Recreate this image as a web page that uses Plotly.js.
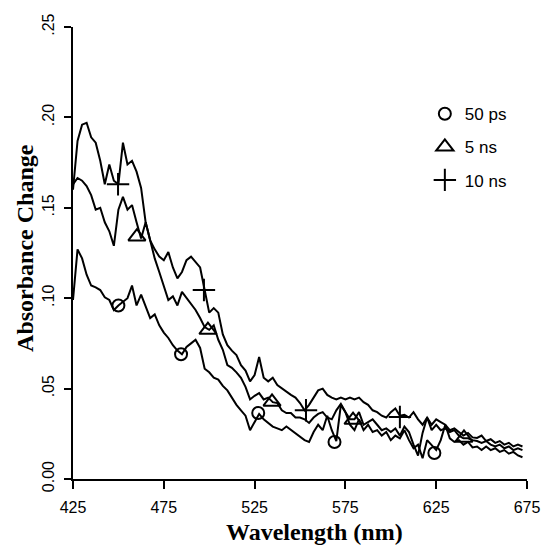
<!DOCTYPE html>
<html>
<head>
<meta charset="utf-8">
<script src="https://cdn.plot.ly/plotly-3.0.1.min.js"></script>
<style>html,body{margin:0;padding:0;background:#fff;}#chart{width:553px;height:546px;}</style>
</head>
<body>
<div id="chart"></div>
<script>
// Wavelength grid (nm)
const wavelength = [425,427.5,430,432.5,435,437.5,440,442.5,445,447.5,450,452.5,455,457.5,460,462.5,465,467.5,470,472.5,475,477.5,480,482.5,485,487.5,490,492.5,495,497.5,500,502.5,505,507.5,510,512.5,515,517.5,520,522.5,525,527.5,530,532.5,535,537.5,540,542.5,545,547.5,550,552.5,555,557.5,560,562.5,565,567.5,570,572.5,575,577.5,580,582.5,585,587.5,590,592.5,595,597.5,600,602.5,605,607.5,610,612.5,615,617.5,620,622.5,625,627.5,630,632.5,635,637.5,640,642.5,645,647.5,650,652.5,655,657.5,660,662.5,665,667.5,670,672.5];

// Absorbance change, 10 ns
const abs10ns = [0.160,0.187,0.196,0.197,0.189,0.186,0.176,0.163,0.174,0.165,0.163,0.186,0.174,0.176,0.170,0.161,0.142,0.132,0.127,0.123,0.121,0.1255,0.117,0.111,0.1145,0.121,0.123,0.120,0.117,0.1045,0.092,0.0945,0.092,0.080,0.074,0.071,0.0686,0.063,0.060,0.054,0.0575,0.0675,0.056,0.054,0.056,0.052,0.050,0.048,0.0465,0.045,0.042,0.038,0.041,0.045,0.049,0.050,0.0465,0.045,0.044,0.045,0.044,0.045,0.044,0.045,0.0425,0.041,0.038,0.037,0.035,0.034,0.037,0.039,0.035,0.0355,0.034,0.037,0.033,0.030,0.034,0.030,0.033,0.0315,0.030,0.027,0.028,0.026,0.024,0.0255,0.023,0.0227,0.024,0.021,0.022,0.020,0.021,0.019,0.020,0.018,0.019,0.018];

// Absorbance change, 5 ns
const abs5ns = [0.163,0.1665,0.165,0.162,0.157,0.149,0.150,0.142,0.137,0.129,0.149,0.156,0.149,0.1515,0.142,0.133,0.142,0.132,0.122,0.1145,0.107,0.099,0.101,0.096,0.1035,0.100,0.097,0.0935,0.089,0.084,0.0825,0.085,0.077,0.0715,0.063,0.0615,0.059,0.056,0.051,0.044,0.046,0.0475,0.044,0.045,0.0425,0.042,0.038,0.0365,0.0365,0.034,0.034,0.033,0.031,0.034,0.036,0.037,0.034,0.033,0.038,0.0415,0.037,0.033,0.033,0.037,0.030,0.0315,0.033,0.030,0.027,0.028,0.026,0.028,0.024,0.029,0.026,0.019,0.013,0.0255,0.034,0.027,0.030,0.027,0.028,0.026,0.027,0.024,0.0225,0.0225,0.0215,0.021,0.020,0.021,0.019,0.018,0.019,0.017,0.018,0.016,0.017,0.016];

// Absorbance change, 50 ps
const abs50ps = [0.099,0.127,0.122,0.113,0.107,0.106,0.1045,0.1005,0.099,0.0935,0.096,0.098,0.100,0.107,0.096,0.102,0.095,0.089,0.091,0.085,0.081,0.078,0.074,0.071,0.069,0.073,0.075,0.077,0.0725,0.061,0.059,0.056,0.055,0.0515,0.049,0.045,0.041,0.038,0.035,0.027,0.0315,0.036,0.033,0.031,0.029,0.028,0.027,0.029,0.027,0.0255,0.023,0.0215,0.0205,0.026,0.030,0.027,0.035,0.027,0.021,0.041,0.037,0.030,0.027,0.033,0.027,0.030,0.026,0.027,0.024,0.026,0.0215,0.024,0.0225,0.027,0.0215,0.017,0.019,0.0115,0.0215,0.019,0.016,0.0215,0.030,0.0225,0.0205,0.0215,0.019,0.0205,0.0175,0.018,0.016,0.018,0.016,0.017,0.015,0.016,0.014,0.015,0.013,0.012];

// Marker positions on each curve
const mark50psX = [450,484.5,527,569,624];
const mark50psY = [0.096,0.069,0.0365,0.0205,0.0144];
const mark5nsX = [460.2,499.3,534.6,579.2,640.3];
const mark5nsY = [0.134,0.0824,0.0426,0.0326,0.0227];
const mark10nsX = [449.8,497.1,553.3,605];
const mark10nsY = [0.163,0.1045,0.038,0.0343];

const seriesNames = ['50 ps','5 ns','10 ns'];
const xTicks = [425,475,525,575,625,675];
const yTicks = [0,0.05,0.10,0.15,0.20,0.25];
const yTickText = ['0.00','.05','.10','.15','.20','.25'];

const lineStyle = {color:'#000', width:2};
const traces = [
  {x:wavelength, y:abs50ps, mode:'lines', line:lineStyle, showlegend:false, hoverinfo:'skip'},
  {x:wavelength, y:abs5ns, mode:'lines', line:lineStyle, showlegend:false, hoverinfo:'skip'},
  {x:wavelength, y:abs10ns, mode:'lines', line:lineStyle, showlegend:false, hoverinfo:'skip'},
  {x:mark50psX, y:mark50psY, mode:'markers', name:seriesNames[0], legendgroup:'a',
   marker:{symbol:'circle-open', size:12, color:'#000', line:{width:2, color:'#000'}}},
  {x:mark5nsX, y:mark5nsY, mode:'markers', name:seriesNames[1], legendgroup:'b',
   marker:{symbol:'triangle-up-open', size:15, color:'#000', line:{width:2, color:'#000'}}},
  {x:mark10nsX, y:mark10nsY, mode:'markers', name:seriesNames[2], legendgroup:'c',
   marker:{symbol:'cross-thin-open', size:16, color:'#000', line:{width:2, color:'#000'}}}
];

const tickFont = {family:'Liberation Sans, Arial, sans-serif', size:16, color:'#000'};
const layout = {
  width:553, height:546,
  margin:{l:73, r:26, t:27, b:67},
  paper_bgcolor:'#fff', plot_bgcolor:'#fff',
  showlegend:true,
  legend:{x:0.775, y:0.847, xanchor:'left', yanchor:'top', traceorder:'grouped', tracegroupgap:8,
          font:{family:'Liberation Sans, Arial, sans-serif', size:17, color:'#000'},
          bgcolor:'rgba(0,0,0,0)'},
  xaxis:{range:[425,675], tickvals:xTicks, ticktext:xTicks.map(String), showgrid:false, zeroline:false,
         showline:true, linecolor:'#000', linewidth:2, ticks:'outside', ticklen:8, tickwidth:2, tickcolor:'#000',
         ticklabelstandoff:5, tickfont:tickFont, fixedrange:true},
  yaxis:{range:[0,0.25], tickvals:yTicks, ticktext:yTickText, tickangle:-90, showgrid:false, zeroline:false,
         showline:true, linecolor:'#000', linewidth:2, ticks:'outside', ticklen:7, tickwidth:2, tickcolor:'#000',
         ticklabelstandoff:4, tickfont:tickFont, fixedrange:true},
  annotations:[
    {text:'Wavelength (nm)', xref:'paper', yref:'paper', x:0.531, y:-0.118, xanchor:'center', yanchor:'middle',
     showarrow:false, font:{family:'Liberation Serif, Times New Roman, serif', size:24, color:'#000', weight:'bold'}},
    {text:'Absorbance Change', xref:'paper', yref:'paper', x:-0.106, y:0.511, xanchor:'center', yanchor:'middle',
     textangle:-90, showarrow:false, font:{family:'Liberation Serif, Times New Roman, serif', size:24, color:'#000', weight:'bold'}}
  ]
};
Plotly.newPlot('chart', traces, layout, {displayModeBar:false, staticPlot:true});
</script>
</body>
</html>
